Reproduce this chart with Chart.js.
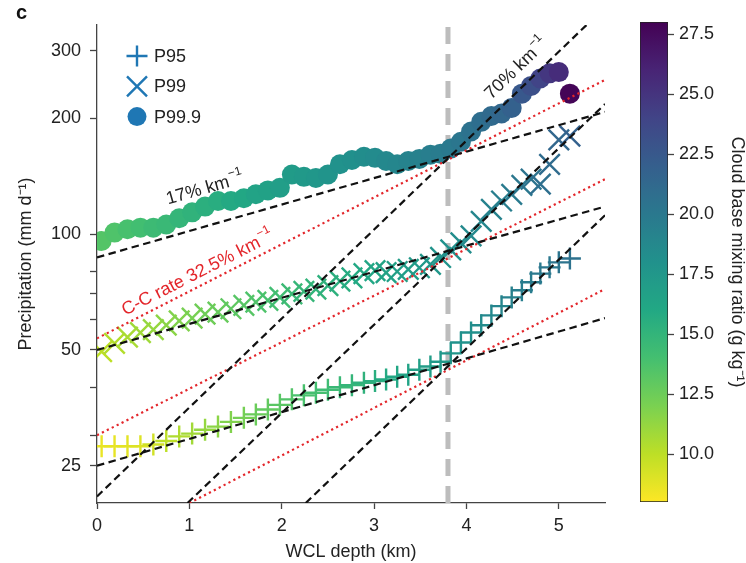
<!DOCTYPE html>
<html>
<head>
<meta charset="utf-8">
<script src="https://cdn.jsdelivr.net/npm/chart.js@4.4.1/dist/chart.umd.min.js"></script>
<style>
  body { margin: 0; background: #fff; }
  #wrap { position: relative; width: 746px; height: 563px; overflow: hidden; background: #fff; }
  #main { position: absolute; left: 0; top: 0; }
  #cbar { position: absolute; left: 630px; top: 0; }
  #panel { position: absolute; left: 16px; top: 1px; font: bold 20px 'Liberation Sans', Arial, sans-serif; color: #111; }
</style>
</head>
<body>
<div id="wrap">
  <canvas id="main" width="630" height="563"></canvas>
  <canvas id="cbar" width="116" height="563"></canvas>
  <div id="panel">c</div>
</div>
<script>
const FONT = "'Liberation Sans', Arial, Helvetica, sans-serif";
Chart.defaults.font.family = FONT;
Chart.defaults.font.size = 18;
Chart.defaults.color = "#222";

/** Data */
// WCL depth bins (km), shared by the three percentile series
const depth = [0.05, 0.19, 0.33, 0.47, 0.61, 0.75, 0.89, 1.03, 1.17, 1.31,
  1.45, 1.59, 1.72, 1.85, 1.98, 2.11, 2.24, 2.37, 2.50, 2.63,
  2.76, 2.89, 3.01, 3.13, 3.25, 3.37, 3.49, 3.61, 3.72, 3.83,
  3.94, 4.05, 4.16, 4.27, 4.38, 4.49, 4.60, 4.70, 4.80, 4.90,
  5.00, 5.12];

// precipitation percentiles (mm/d)
const p95 = [28.1, 28.1, 28.1, 28.1, 28.4, 29.0, 29.8, 30.3, 31.0, 31.6,
  32.5, 33.3, 34.0, 35.0, 36.0, 37.2, 38.1, 38.7, 39.4, 40.0,
  40.5, 41.1, 41.5, 41.9, 42.6, 43.1, 44.4, 45.3, 46.6, 49.0,
  52.3, 55.5, 58.0, 61.5, 65.0, 68.5, 71.5, 75.0, 79.0, 82.0,
  84.5, 86.5];
const p99 = [49.5, 52.0, 54.0, 55.5, 56.5, 58.0, 59.5, 60.5, 62.0, 62.7,
  64.0, 65.3, 66.6, 67.3, 68.5, 70.0, 71.0, 72.0, 73.5, 75.5,
  77.0, 79.0, 80.4, 79.5, 80.0, 81.0, 81.8, 83.5, 87.0, 91.0,
  95.0, 99.0, 108, 116, 122, 127, 134, 139, 135, 152,
  176, 180];
const p999 = [96, 101, 103, 104, 104, 106, 110, 114, 118, 122,
  122, 124, 127, 130, 132, 143, 141, 140, 143, 152,
  156, 159, 158, 155, 152, 155, 157, 161, 162, 167,
  174, 185, 196, 203, 206, 213, 232, 243, 254, 262,
  264, 232];

// cloud base mixing ratio (g/kg) -> marker colour
const p95Mix = [8.6, 8.7, 8.8, 9.0, 9.4, 10.0, 10.4, 10.8, 11.2, 11.5,
  11.8, 12.2, 12.6, 12.9, 13.2, 13.5, 13.8, 14.0, 14.3, 14.6,
  14.9, 15.2, 15.5, 15.8, 16.1, 16.4, 16.7, 17.0, 17.3, 17.6,
  17.9, 18.1, 18.4, 18.7, 19.0, 19.3, 19.5, 19.7, 19.9, 20.1,
  20.3, 20.5];
const p99Mix = [10.0, 10.3, 10.6, 10.9, 11.2, 11.5, 11.8, 12.1, 12.4, 12.7,
  13.0, 13.3, 13.6, 13.9, 14.2, 14.5, 14.8, 15.0, 15.3, 15.5,
  15.8, 16.0, 16.3, 16.5, 16.8, 17.0, 17.3, 17.5, 17.8, 18.0,
  18.3, 18.6, 18.9, 19.2, 19.5, 19.8, 20.1, 20.4, 20.7, 21.0,
  21.4, 21.8];
const p999Mix = [13.4, 13.6, 13.9, 14.1, 14.4, 14.6, 14.9, 15.1, 15.4, 15.6,
  15.9, 16.1, 16.4, 16.6, 16.9, 17.1, 17.3, 17.5, 17.7, 17.9,
  18.1, 18.3, 18.5, 18.7, 18.9, 19.1, 19.3, 19.5, 19.7, 19.9,
  20.2, 20.5, 20.8, 21.1, 21.4, 21.8, 22.5, 23.2, 24.0, 24.8,
  25.5, 27.8];

// reference lines as [x0, y0, x1, y1]
const rate17 = [[0, 87, 5.5, 208], [0, 50, 5.5, 118], [0, 25, 5.5, 60.5]];
const rate70 = [[0, 20.8, 5.3, 350], [0.98, 20, 5.5, 218], [2.26, 20, 5.5, 112]];
const rateCC = [[0, 53.6, 5.5, 252], [0, 30, 5.5, 139], [1.0, 20, 5.5, 72]];
const wclBreak = 3.8;

// axes
const xRange = [0, 5.5];
const yRange = [20, 350];
const xTicks = [0, 1, 2, 3, 4, 5];
const yTicks = [25, 30, 40, 50, 60, 70, 80, 100, 200, 300];
const yTickLabels = [25, 50, 100, 200, 300];
const cbRange = [8, 28];
const cbTicks = [10, 12.5, 15, 17.5, 20, 22.5, 25, 27.5];

// text along the lines: anchor in data units, angle taken from the line
const lineNotes = [
  { text: "17% km", x: 1.16, y: 132, along: rate17[0], color: "#222" },
  { text: "70% km", x: 4.53, y: 270, along: rate70[0], color: "#222" },
  { text: "C-C rate 32.5% km", x: 1.08, y: 79.5, along: rateCC[0], color: "#e3262b" },
];
const legendEntries = [
  { text: "P95", style: "cross" },
  { text: "P99", style: "crossRot" },
  { text: "P99.9", style: "circle" },
];

/** Colour map (viridis, reversed on the colorbar) */
const viridisStops = ["#440154", "#482475", "#414487", "#355f8d", "#2a788e",
  "#21918c", "#22a884", "#44bf70", "#7ad151", "#bddf26", "#fde725"];

function hexRgb(h) {
  return [1, 3, 5].map((i) => parseInt(h.slice(i, i + 2), 16));
}

function viridis(t) {
  t = Math.max(0, Math.min(1, t));
  const f = t * 10;
  const i = Math.min(9, Math.floor(f));
  const a = hexRgb(viridisStops[i]);
  const b = hexRgb(viridisStops[i + 1]);
  const k = f - i;
  const c = a.map((v, j) => Math.round(v + (b[j] - v) * k));
  return `rgb(${c[0]},${c[1]},${c[2]})`;
}

function mixColor(q) {
  return viridis(1 - (q - cbRange[0]) / (cbRange[1] - cbRange[0]));
}

const toPoints = (vals) => depth.map((d, i) => ({ x: d, y: vals[i] }));

function lineDataset(seg, color, dash, width) {
  return {
    data: [{ x: seg[0], y: seg[1] }, { x: seg[2], y: seg[3] }],
    showLine: true,
    borderColor: color,
    borderWidth: width,
    borderDash: dash,
    borderCapStyle: "butt",
    pointRadius: 0,
    fill: false,
    order: 0,
    clip: 0,
  };
}

function markerDataset(label, vals, mix, style, radius, width) {
  const colors = mix.map(mixColor);
  return {
    label: label,
    data: toPoints(vals),
    pointStyle: style,
    pointRadius: radius,
    pointBorderWidth: width,
    pointBorderColor: colors,
    pointBackgroundColor: colors,
    showLine: false,
    order: 1,
    clip: 0,
  };
}

/** Text with a superscript "−1", rotated along a line */
function drawSupText(ctx, text, x, y, angle, color) {
  const big = `18px ${FONT}`;
  const small = `12px ${FONT}`;
  ctx.save();
  ctx.translate(x, y);
  ctx.rotate(angle);
  ctx.fillStyle = color;
  ctx.textBaseline = "alphabetic";
  ctx.textAlign = "left";
  ctx.font = big;
  const w1 = ctx.measureText(text).width;
  ctx.font = small;
  const w2 = ctx.measureText("\u22121").width;
  const sx = -(w1 + w2) / 2;
  ctx.font = big;
  ctx.fillText(text, sx, 6);
  ctx.font = small;
  ctx.fillText("\u22121", sx + w1 + 1, -3);
  ctx.restore();
}

const notesPlugin = {
  id: "lineNotes",
  afterDatasetsDraw(chart) {
    const { ctx } = chart;
    const xs = chart.scales.x;
    const ys = chart.scales.y;
    lineNotes.forEach((n) => {
      const x0 = xs.getPixelForValue(n.along[0]);
      const y0 = ys.getPixelForValue(n.along[1]);
      const x1 = xs.getPixelForValue(n.along[2]);
      const y1 = ys.getPixelForValue(n.along[3]);
      const angle = Math.atan2(y1 - y0, x1 - x0);
      drawSupText(ctx, n.text, xs.getPixelForValue(n.x), ys.getPixelForValue(n.y), angle, n.color);
    });
  },
};

const legendPlugin = {
  id: "markerLegend",
  afterDraw(chart) {
    const { ctx, chartArea } = chart;
    ctx.save();
    legendEntries.forEach((e, i) => {
      const cx = chartArea.left + 40;
      const cy = chartArea.top + 31 + i * 30.3;
      ctx.strokeStyle = "#1f77b4";
      ctx.fillStyle = "#1f77b4";
      ctx.lineWidth = 2.4;
      ctx.beginPath();
      if (e.style === "cross") {
        ctx.moveTo(cx - 10.5, cy);
        ctx.lineTo(cx + 10.5, cy);
        ctx.moveTo(cx, cy - 10.5);
        ctx.lineTo(cx, cy + 10.5);
        ctx.stroke();
      } else if (e.style === "crossRot") {
        ctx.moveTo(cx - 10, cy - 10);
        ctx.lineTo(cx + 10, cy + 10);
        ctx.moveTo(cx - 10, cy + 10);
        ctx.lineTo(cx + 10, cy - 10);
        ctx.stroke();
      } else {
        ctx.arc(cx, cy, 9.5, 0, Math.PI * 2);
        ctx.fill();
      }
      ctx.fillStyle = "#222";
      ctx.font = `18px ${FONT}`;
      ctx.textBaseline = "middle";
      ctx.textAlign = "left";
      ctx.fillText(e.text, cx + 17, cy + 1);
    });
    ctx.restore();
  },
};

/** Main chart */
new Chart(document.getElementById("main"), {
  type: "scatter",
  data: {
    datasets: [
      markerDataset("P95", p95, p95Mix, "cross", 11, 2.4),
      markerDataset("P99", p99, p99Mix, "crossRot", 14.5, 2.4),
      markerDataset("P99.9", p999, p999Mix, "circle", 10, 0),
      {
        data: [{ x: wclBreak, y: yRange[0] }, { x: wclBreak, y: yRange[1] }],
        showLine: true,
        borderColor: "#bdbdbd",
        borderWidth: 5,
        borderDash: [17, 10],
        borderCapStyle: "butt",
        pointRadius: 0,
        order: 2,
        clip: 0,
      },
      ...rate17.map((s) => lineDataset(s, "#111", [7.5, 4.5], 2.2)),
      ...rate70.map((s) => lineDataset(s, "#111", [7.5, 4.5], 2.2)),
      ...rateCC.map((s) => lineDataset(s, "#e3262b", [2.2, 3.3], 2.2)),
    ],
  },
  options: {
    responsive: false,
    animation: false,
    devicePixelRatio: 1,
    events: [],
    layout: { padding: { left: 0, right: 25, top: 25, bottom: 0 } },
    plugins: { legend: { display: false }, tooltip: { enabled: false } },
    scales: {
      x: {
        type: "linear",
        min: xRange[0],
        max: xRange[1],
        afterBuildTicks: (scale) => {
          scale.ticks = xTicks.map((v) => ({ value: v }));
        },
        afterFit: (scale) => {
          scale.height = 60;
        },
        ticks: { padding: 6, autoSkip: false, maxRotation: 0, callback: (v) => String(v) },
        grid: { drawOnChartArea: false, tickLength: 6, tickColor: "#444", tickWidth: 1.3 },
        border: { color: "#444", width: 1.3 },
        title: {
          display: true,
          text: "WCL depth (km)",
          font: { size: 18, lineHeight: 1 },
          padding: { top: 0, bottom: 2 },
        },
      },
      y: {
        type: "logarithmic",
        min: yRange[0],
        max: yRange[1],
        afterBuildTicks: (scale) => {
          scale.ticks = yTicks.map((v) => ({ value: v }));
        },
        afterFit: (scale) => {
          scale.width = 97;
        },
        ticks: {
          padding: 9,
          autoSkip: false,
          callback: (v) => (yTickLabels.includes(v) ? String(v) : ""),
        },
        grid: { drawOnChartArea: false, tickLength: 7, tickColor: "#444", tickWidth: 1.3 },
        border: { color: "#444", width: 1.3 },
        title: {
          display: true,
          text: "Precipitation (mm d\u207B\u00B9)",
          font: { size: 18, lineHeight: 1 },
          padding: { top: 17.5, bottom: 0 },
        },
      },
    },
  },
  plugins: [notesPlugin, legendPlugin],
});

/** Colorbar */
function cbGradient(chart) {
  const area = chart.chartArea;
  if (!area) return "#888";
  const g = chart.ctx.createLinearGradient(0, area.bottom, 0, area.top);
  for (let i = 0; i <= 20; i++) {
    g.addColorStop(i / 20, viridis(1 - i / 20));
  }
  return g;
}

new Chart(document.getElementById("cbar"), {
  type: "bar",
  data: {
    labels: [""],
    datasets: [
      {
        data: [cbRange],
        backgroundColor: (c) => cbGradient(c.chart),
        borderColor: "#222",
        borderWidth: 1,
        borderSkipped: false,
        barPercentage: 1,
        categoryPercentage: 1,
      },
    ],
  },
  options: {
    responsive: false,
    animation: false,
    devicePixelRatio: 1,
    events: [],
    layout: { padding: { left: 10, right: 0, top: 22, bottom: 61 } },
    plugins: { legend: { display: false }, tooltip: { enabled: false } },
    scales: {
      x: { display: false },
      y: {
        position: "right",
        min: cbRange[0],
        max: cbRange[1],
        afterBuildTicks: (scale) => {
          scale.ticks = cbTicks.map((v) => ({ value: v }));
        },
        afterFit: (scale) => {
          scale.width = 78;
        },
        ticks: { padding: 5, autoSkip: false, callback: (v) => Number(v).toFixed(1) },
        grid: { drawOnChartArea: false, tickLength: 6, tickColor: "#444", tickWidth: 1.3 },
        border: { display: false },
        title: {
          display: true,
          text: "Cloud base mixing ratio (g kg\u207B\u00B9)",
          font: { size: 18, lineHeight: 1 },
          padding: { top: 0, bottom: 0 },
        },
      },
    },
  },
});
</script>
</body>
</html>
